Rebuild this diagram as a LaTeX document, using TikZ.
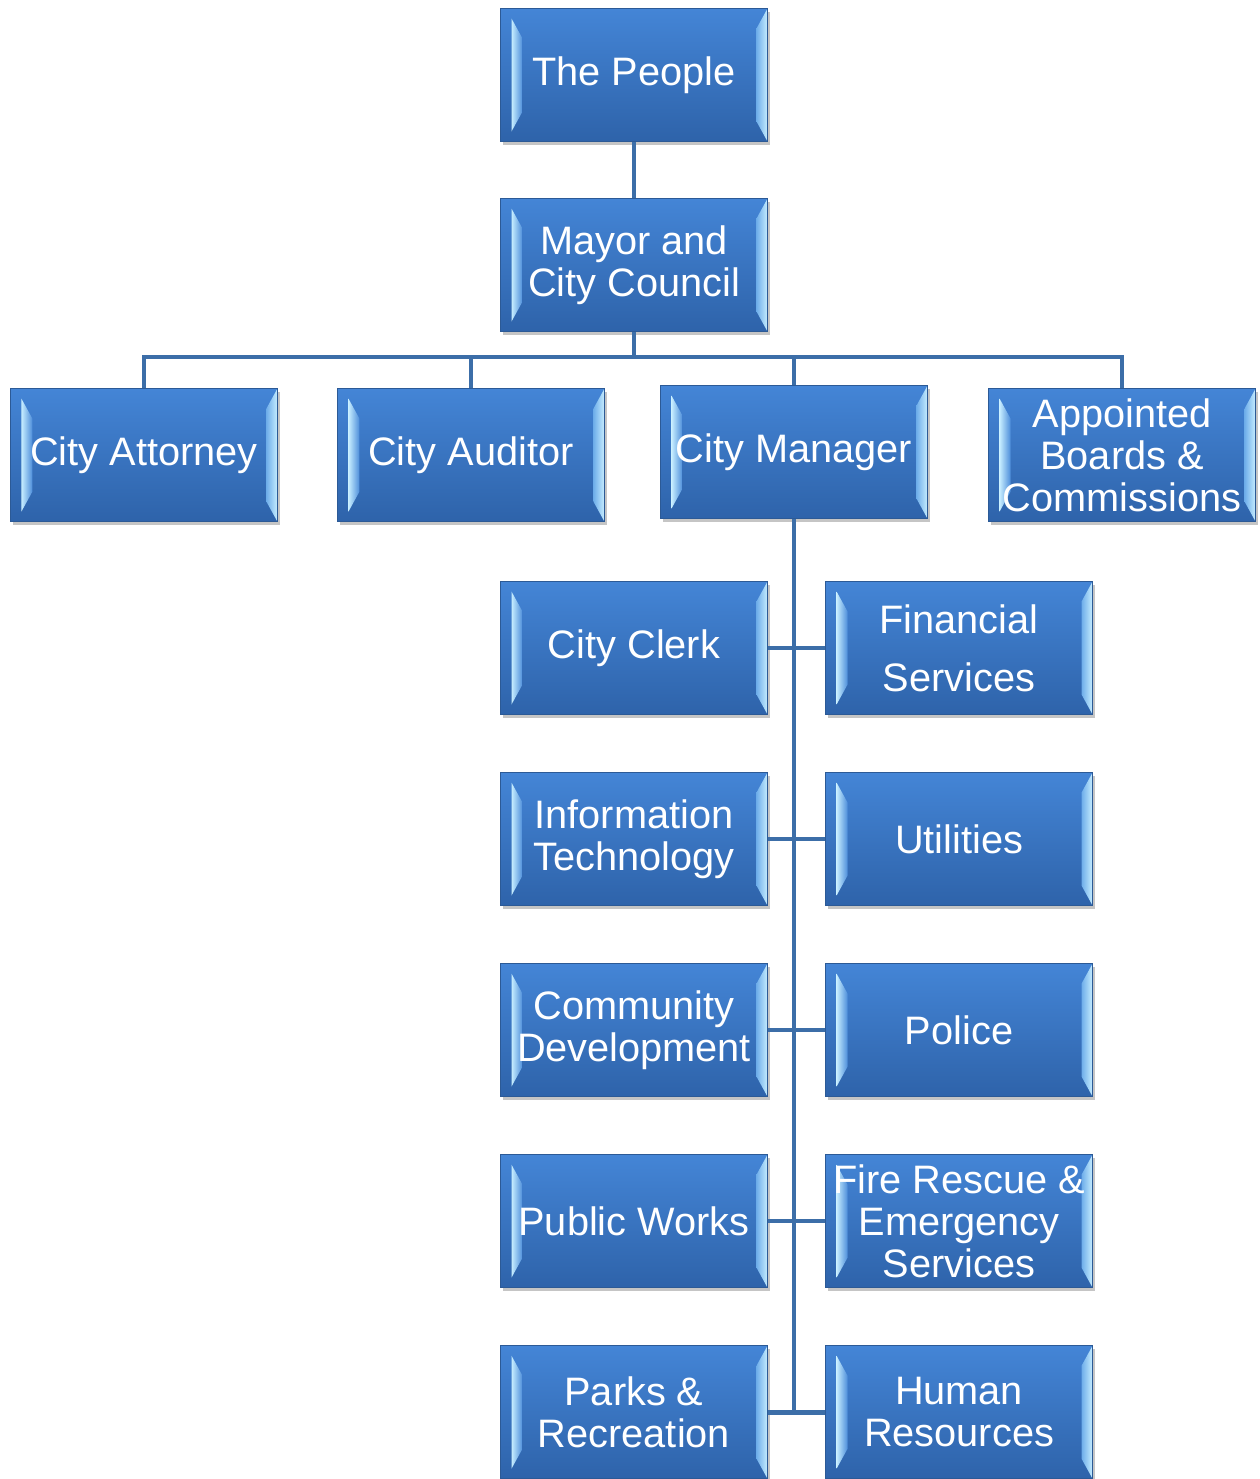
\documentclass[tikz,border=0pt]{standalone}
\usepackage{fontspec}
\setmainfont{Liberation Sans}
\usepackage{tikz}
\usetikzlibrary{positioning, calc, shadows}
\definecolor{boxtop}{HTML}{4485D6}
\definecolor{boxbot}{HTML}{2E63AA}
\definecolor{boxline}{HTML}{2C5A96}
\definecolor{bevmid}{HTML}{6FAEEA}
\definecolor{bevlight}{HTML}{C6EDFF}
\definecolor{linkcol}{HTML}{3C6EA8}

\begin{document}
\begin{tikzpicture}
    [box/.style={draw=boxline, line width=0.6pt, top color=boxtop, bottom color=boxbot,
        minimum width=5.34cm, minimum height=2.66cm, inner sep=0pt, align=center,
        text=white, font=\fontsize{22.6}{24}\selectfont,
        drop shadow={shadow xshift=0.05cm, shadow yshift=-0.07cm, fill=black!45, opacity=0.5},
        path picture={
          \path (path picture bounding box.north west) coordinate (pnw)
                (path picture bounding box.south east) coordinate (pse);
          \shade[left color=bevlight, right color=boxtop!80!bevmid]
            ($(pnw)+(0.22,-0.2)$) -- ($(pnw)+(0.44,-0.6)$) -- ($(pnw|-pse)+(0.44,0.6)$)
            -- ($(pnw|-pse)+(0.22,0.2)$) -- cycle;
          \shade[left color=bevmid, right color=bevlight]
            (pnw-|pse) -- ($(pnw-|pse)+(-0.22,-0.4)$) -- ($(pse)+(-0.22,0.4)$) -- (pse) -- cycle;
        }},
      conn/.style={draw=linkcol, line width=2.6pt},
      node distance=1.14cm and 1.14cm]

    \useasboundingbox (0,0) rectangle (25.2,-29.58);

    \node[box] (people) at (12.68,-1.5) {The People};
    \node[box, below=1.12cm of people] (mayor) {Mayor and\\City Council};
    \node[box, below=1.06cm of mayor, xshift=3.2cm] (manager) {City Manager};
    \node[box, left=1.1cm of manager, yshift=-0.06cm] (auditor) {City Auditor};
    \node[box, left=1.18cm of auditor] (attorney) {City Attorney};
    \node[box, right=1.2cm of manager, yshift=-0.06cm] (boards) {Appointed\\Boards \&\\Commissions};

    \node[box] (clerk) at (12.68,-12.96) {City Clerk};
    \node[box, right=of clerk] (finance) {Financial\\[9pt]Services};
    \node[box, below=of clerk] (infotech) {Information\\Technology};
    \node[box, right=of infotech] (utilities) {Utilities};
    \node[box, below=of infotech] (commdev) {Community\\Development};
    \node[box, right=of commdev] (police) {Police};
    \node[box, below=of commdev] (works) {Public Works};
    \node[box, right=of works] (fire) {Fire Rescue \&\\Emergency\\Services};
    \node[box, below=of works] (parks) {Parks \&\\Recreation};
    \node[box, right=of parks] (hr) {Human\\Resources};

    \coordinate (bus) at ($(mayor.south)+(0,-0.5)$);

    \draw[conn] (people) -- (mayor);
    \draw[conn] (mayor.south) -- (bus);
    \draw[conn] (attorney.north) |- (bus) -| (boards.north);
    \draw[conn] (auditor.north) -- (auditor.north |- bus);
    \draw[conn] (manager.north) -- (manager.north |- bus);
    \draw[conn] (manager.south) -- (manager.south |- parks);
    \foreach \l/\r in {clerk/finance, infotech/utilities, commdev/police, works/fire, parks/hr}
      \draw[conn] (\l.east) -- (\r.west);
  \end{tikzpicture}
\end{document}
